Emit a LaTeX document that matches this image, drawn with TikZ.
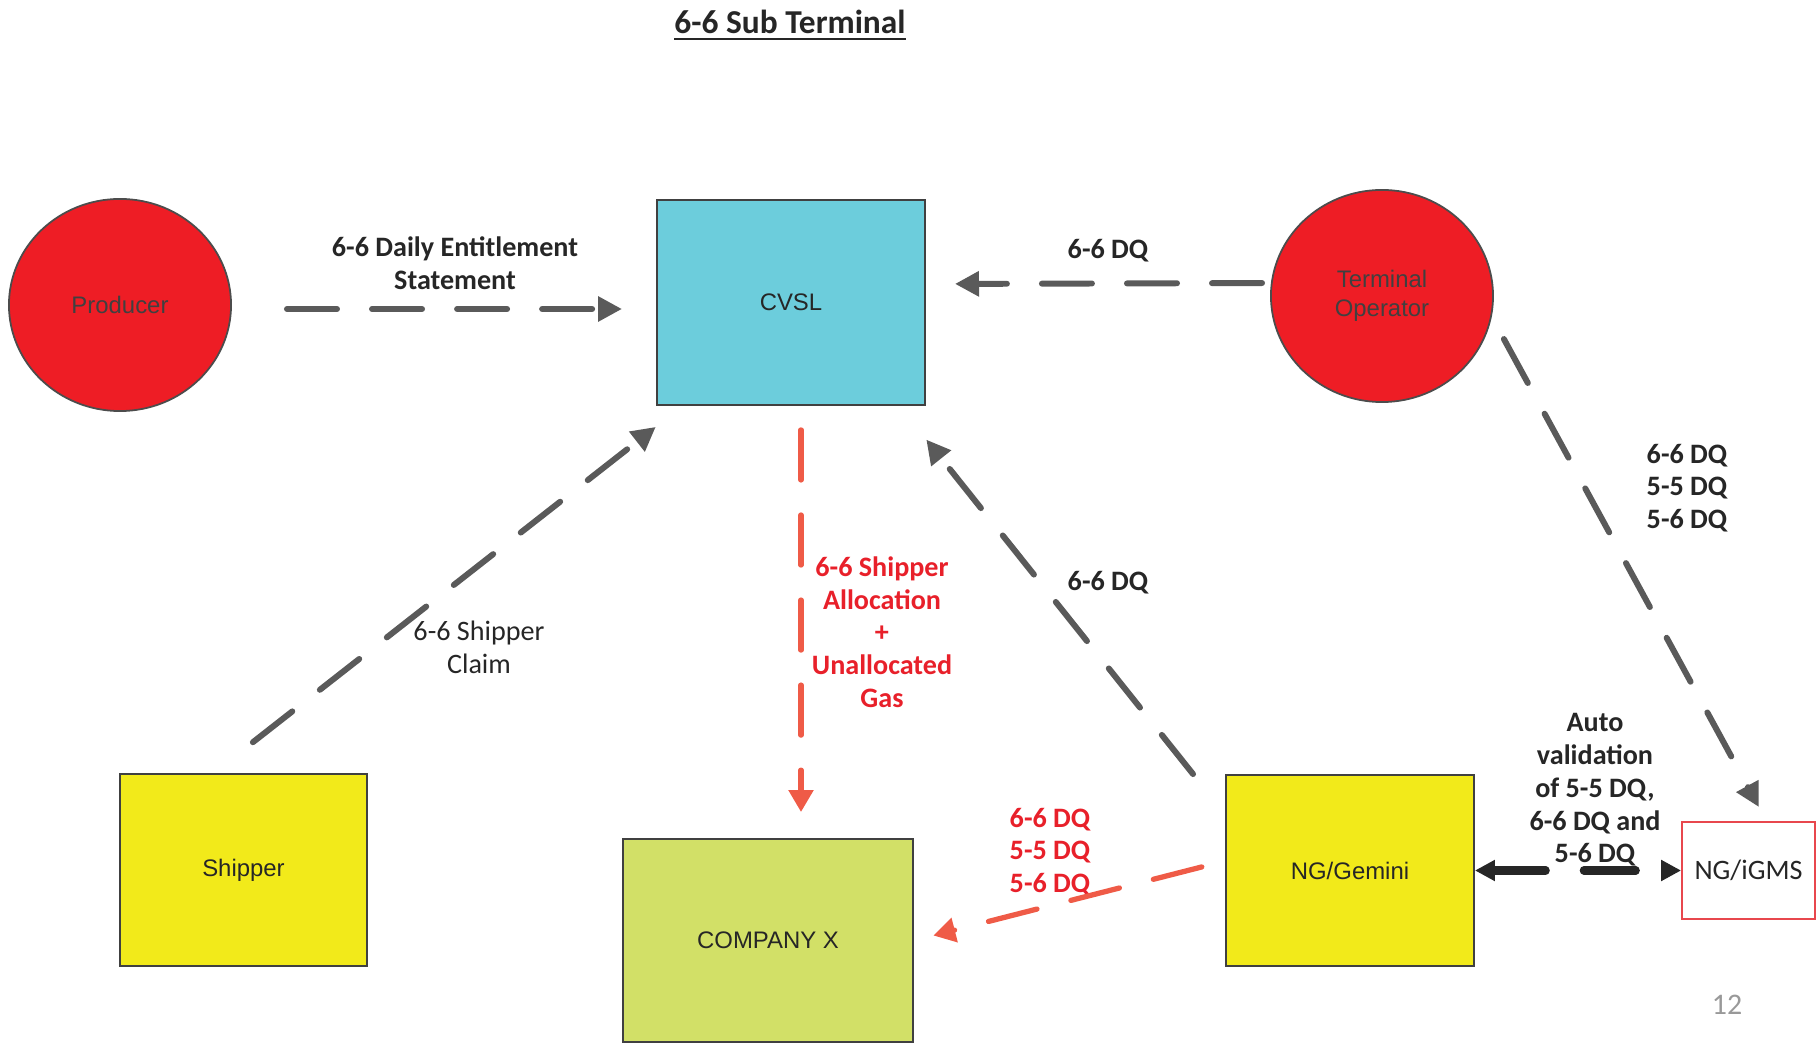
\documentclass[tikz,border=0pt]{standalone}
\usepackage{fontspec}
\setmainfont{Carlito}
\newfontfamily\arialfont{Liberation Sans}
\usetikzlibrary{arrows.meta,shapes.geometric}
\definecolor{dashgray}{HTML}{5A5A5A}
\definecolor{flowred}{HTML}{EF5B47}
\definecolor{txtred}{HTML}{E8202A}
\definecolor{txtdark}{HTML}{262626}
\definecolor{partyred}{HTML}{EE1D25}
\definecolor{cvslblue}{HTML}{6CCDDC}
\definecolor{boxyellow}{HTML}{F2EA1A}
\definecolor{boxgreen}{HTML}{D2E067}
\definecolor{igmsred}{HTML}{E8474D}
\tikzset{
  party/.style={ellipse,draw=black!70,line width=0.5pt,fill=partyred,text=black!75,
    minimum width=2.22cm,minimum height=2.12cm,align=center,
    font=\arialfont\fontsize{6.8}{8.2}\selectfont},
  box/.style={rectangle,draw=black!75,line width=0.5pt,text=txtdark,
    font=\arialfont\fontsize{6.8}{8.2}\selectfont},
  lbl/.style={font=\bfseries\fontsize{8}{9.3}\selectfont,text=txtdark,align=center,inner sep=0pt},
  gline/.style={draw=dashgray,line width=1.7pt,line cap=round,dash pattern=on 5mm off 3.5mm,
    -{Triangle[length=2.4mm,width=2.4mm]}},
  rline/.style={draw=flowred,line width=1.5pt,line cap=round,dash pattern=on 5mm off 3.5mm,
    -{Triangle[length=2.2mm,width=2.4mm]}},
  bline/.style={draw=txtdark,line width=2.3pt,line cap=round,dash pattern=on 5.2mm off 3.8mm,
    {Triangle[length=2mm,width=2mm]}-{Triangle[length=2mm,width=2mm]}}
}
\begin{document}
\begin{tikzpicture}[x=0.01cm,y=-0.01cm]
  \useasboundingbox (0,0) rectangle (1820,1049);
  \node[font=\bfseries\fontsize{9.5}{11}\selectfont,text=txtdark,anchor=base] (title) at (790,34) {\underline{6-6 Sub Terminal}};

  \node[party] (prod) at (120,305) {Producer};
  \node[party] (term) at (1382,296) {Terminal\\Operator};
  \node[box,fill=cvslblue,minimum width=2.68cm,minimum height=2.05cm] (cvsl) at (791,302.5) {CVSL};
  \node[box,fill=boxyellow,minimum width=2.47cm,minimum height=1.92cm] (ship) at (243.5,870) {Shipper};
  \node[box,fill=boxgreen,minimum width=2.9cm,minimum height=2.03cm] (cox) at (768,940.5) {COMPANY X};
  \node[box,fill=boxyellow,minimum width=2.48cm,minimum height=1.91cm] (ngg) at (1350,870.5) {NG/Gemini};
  \node[box,draw=igmsred,fill=white,minimum width=1.33cm,minimum height=0.97cm,
    font=\fontsize{8}{9.3}\selectfont] (igms) at (1748.5,870.5) {NG/iGMS};

  \node[lbl] (l-des) at (455,263) {6-6 Daily Entitlement\\Statement};
  \node[lbl] (l-tdq) at (1108,251) {6-6 DQ};
  \node[lbl,font=\fontsize{8}{9.3}\selectfont] (l-claim) at (479,647) {6-6 Shipper\\Claim};
  \node[lbl] (l-gdq) at (1108,583) {6-6 DQ};
  \node[lbl,text=txtred] (l-alloc) at (882,632) {6-6 Shipper\\Allocation\\+\\Unallocated\\Gas};
  \node[lbl,text=txtred] (l-rdq) at (1050,852) {6-6 DQ\\5-5 DQ\\5-6 DQ};
  \node[lbl] (l-idq) at (1687,488) {6-6 DQ\\5-5 DQ\\5-6 DQ};
  \node[lbl] (l-auto) at (1595,790) {Auto\\validation\\of 5-5 DQ,\\6-6 DQ and\\5-6 DQ};
  \node[font=\fontsize{8.5}{10}\selectfont,text=black!40] (page) at (1727,1005) {12};

  \draw[gline,shorten <=5.5mm,shorten >=3.4mm] ([yshift=-.4mm]prod.east) -- ([yshift=-.65mm]cvsl.west);
  \draw[gline,shorten <=.8mm,shorten >=2.9mm] ([yshift=1.3mm]term.west) -- ([yshift=1.85mm]cvsl.east);
  \draw[gline,shorten <=5mm,shorten >=3.4mm] ([xshift=-3mm]ship.north) -- ([xshift=2.65mm]cvsl.south west);
  \draw[gline,shorten >=4.3mm] ([xshift=-3.2mm]ngg.north west) -- ([xshift=-2.65mm]cvsl.south east);
  \draw[gline,shorten <=4.9mm,shorten >=1.6mm] ([xshift=-1.35mm]term.east) -- ([xshift=1.8mm]igms.north);
  \draw[rline,shorten <=2.4mm,shorten >=2.6mm] ([xshift=1mm]cvsl.south) -- ([xshift=1mm]cvsl.south |- cox.north);
  \draw[rline,shorten <=2.4mm,shorten >=2mm] ([yshift=.95mm]ngg.west) -- (cox.east);
  \draw[bline] (ngg.east) -- (igms.west);
\end{tikzpicture}
\end{document}
